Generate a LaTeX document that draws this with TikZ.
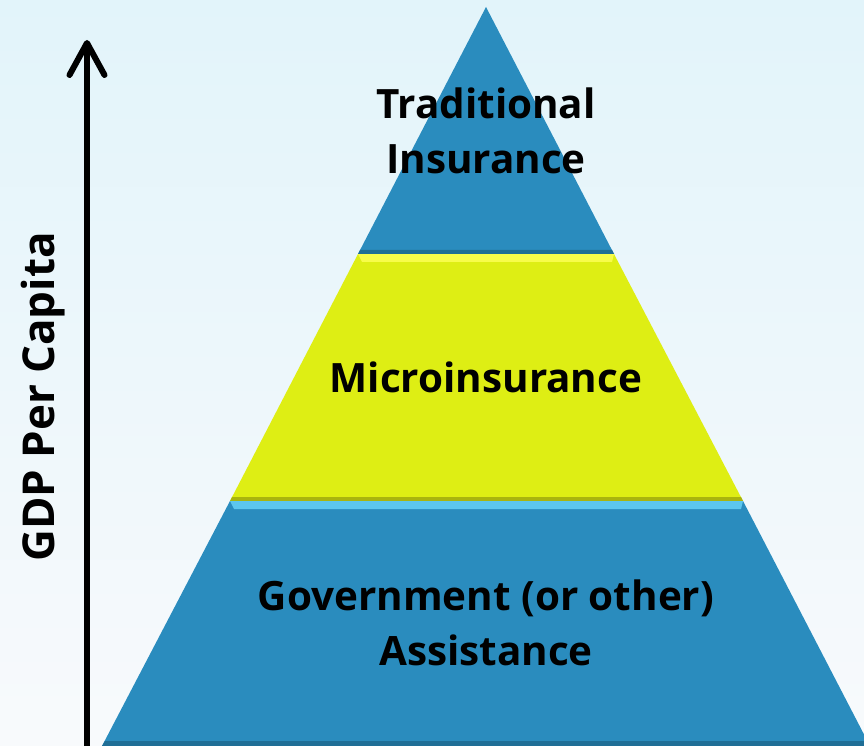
\documentclass[tikz,border=0pt]{standalone}
\usepackage{fontspec}
\setmainfont{Open Sans}
\usetikzlibrary{arrows.meta}

\definecolor{tierblue}{HTML}{2A8CBE}
\definecolor{tierbluelight}{HTML}{5CC6EE}
\definecolor{tierbluedark}{HTML}{1F6E96}
\definecolor{tieryellow}{HTML}{DEEE14}
\definecolor{tieryellowlight}{HTML}{F7FC4A}
\definecolor{tieryellowdark}{HTML}{A9B40E}
\definecolor{bgtop}{HTML}{E2F4FA}
\definecolor{bgbottom}{HTML}{F8FAFC}

\begin{document}
\begin{tikzpicture}[
        x=0.2mm, y=-0.2mm,
        >={Straight Barb[length=6.4mm,width=7mm,line cap=round,line join=round]},
        tier/.style={line join=round},
        bluetier/.style={tier, fill=tierblue},
        yellowtier/.style={tier, fill=tieryellow},
        layerlabel/.style={font=\fontsize{23}{31}\selectfont\bfseries, align=center, text=black},
    ]

    %Background
    \shade[top color=bgtop, bottom color=bgbottom] (0,0) rectangle (864,746);
    \useasboundingbox (0,0) rectangle (864,746);

    \begin{scope}
            \clip (0,0) rectangle (864,746);

            %Draw the three tiers
            \fill [bluetier] (486,7) -- (614,254) -- (358,254) -- cycle;
            \fill [yellowtier] (358,254) -- (614,254) -- (743,501) -- (230,501) -- cycle;
            \fill [bluetier] (230,501) -- (743,501) -- (870,746) -- (102,746) -- cycle;

            %Draw the bevel edges
            \fill [tieryellowlight] (358,254) -- (614,254) -- (612,262) -- (362,262) -- cycle;
            \fill [tieryellowdark] (230,501) -- (743,501) -- (741,497) -- (232,497) -- cycle;
            \fill [tierbluedark] (358,254) -- (614,254) -- (612,250) -- (360,250) -- cycle;
            \fill [tierbluelight] (230,501) -- (743,501) -- (741,509) -- (234,509) -- cycle;
            \fill [tierbluedark] (102,746) -- (870,746) -- (868,741) -- (105,741) -- cycle;
    \end{scope}

    %Draw the labels of the tiers
    \node [layerlabel] (traditional) at (486,131) {Traditional\\Insurance};
    \node [layerlabel] (micro) at (486,377) {Microinsurance};
    \node [layerlabel] (government) at (486,623) {Government (or other)\\Assistance};

    %Draw the GDP axis
    \coordinate (axisbottom) at (87,746);
    \coordinate (axistop) at (87,40);
    \draw [->, line width=1.2mm] (axisbottom) -- (axistop);
    \node [layerlabel, font=\fontsize{25}{31}\selectfont\bfseries, rotate=90] (gdp) at (43,397) {GDP Per Capita};
\end{tikzpicture}
\end{document}
